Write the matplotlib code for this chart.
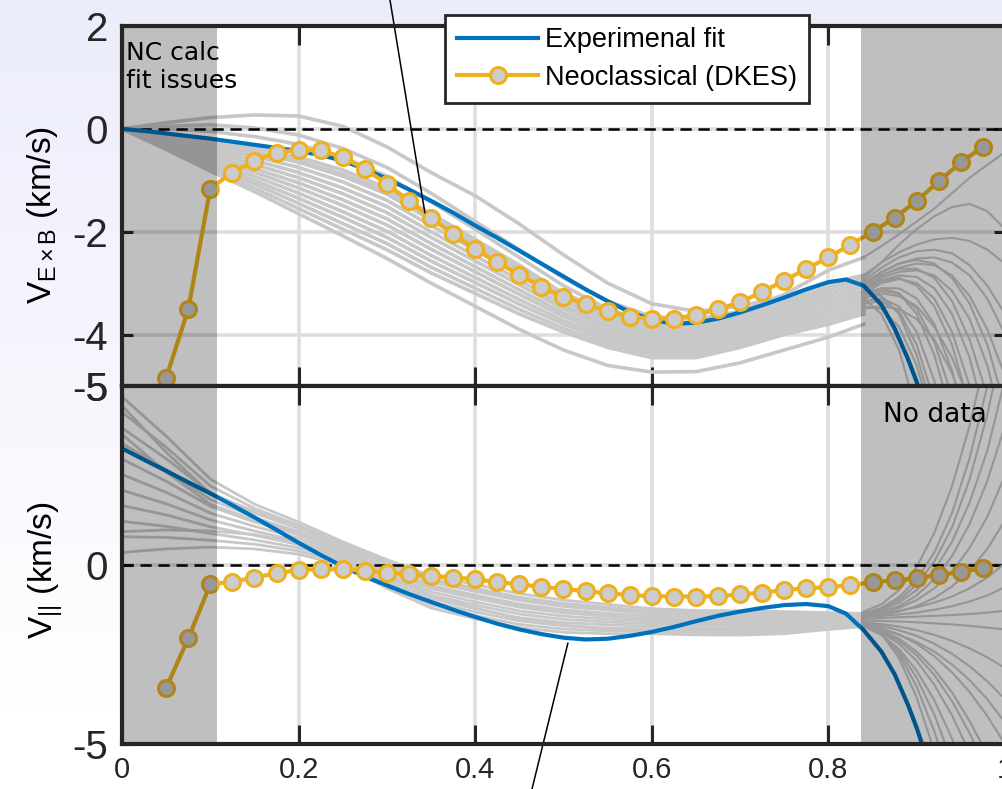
import numpy as np
import matplotlib
matplotlib.use("Agg")
import matplotlib.pyplot as plt

# ---------------- data ----------------
# neoclassical (DKES) points
rho_nc = [0.05, 0.075, 0.1, 0.125, 0.15, 0.175, 0.2, 0.225, 0.25, 0.275,
          0.3, 0.325, 0.35, 0.375, 0.4, 0.425, 0.45, 0.475, 0.5, 0.525,
          0.55, 0.575, 0.6, 0.625, 0.65, 0.675, 0.7, 0.725, 0.75, 0.775,
          0.8, 0.825, 0.85, 0.875, 0.9, 0.925, 0.95, 0.975]
vexb_nc = [-4.84, -3.51, -1.16, -0.85, -0.62, -0.46, -0.41, -0.42, -0.55, -0.78,
           -1.07, -1.40, -1.73, -2.05, -2.33, -2.59, -2.84, -3.07, -3.26, -3.41,
           -3.55, -3.65, -3.69, -3.69, -3.62, -3.51, -3.37, -3.17, -2.95, -2.72,
           -2.50, -2.25, -2.00, -1.73, -1.40, -1.02, -0.65, -0.35]
vpar_nc = [-3.43, -2.05, -0.54, -0.47, -0.35, -0.23, -0.14, -0.11, -0.12, -0.16,
           -0.21, -0.26, -0.30, -0.35, -0.40, -0.48, -0.54, -0.61, -0.67, -0.73,
           -0.79, -0.84, -0.87, -0.88, -0.88, -0.87, -0.82, -0.77, -0.70, -0.65,
           -0.62, -0.56, -0.48, -0.43, -0.36, -0.28, -0.19, -0.09]

# experimental fit
rho_fit = [0, 0.025, 0.05, 0.075, 0.1, 0.125, 0.15, 0.175, 0.2, 0.225,
           0.25, 0.275, 0.3, 0.325, 0.35, 0.375, 0.4, 0.425, 0.45, 0.475,
           0.5, 0.525, 0.55, 0.575, 0.6, 0.625, 0.65, 0.675, 0.7, 0.725,
           0.75, 0.775, 0.8, 0.82, 0.84, 0.86, 0.875, 0.89, 0.9, 0.91]
vexb_fit = [0, -0.04, -0.09, -0.14, -0.19, -0.25, -0.31, -0.37, -0.43, -0.51,
            -0.62, -0.78, -0.97, -1.18, -1.40, -1.63, -1.88, -2.12, -2.37, -2.62,
            -2.87, -3.12, -3.35, -3.56, -3.71, -3.79, -3.77, -3.69, -3.57, -3.43,
            -3.28, -3.12, -2.98, -2.93, -3.05, -3.42, -3.88, -4.47, -4.92, -5.50]
vpar_fit = [3.26, 2.94, 2.63, 2.31, 2.00, 1.67, 1.33, 0.98, 0.62, 0.28,
            -0.04, -0.32, -0.57, -0.81, -1.03, -1.25, -1.45, -1.64, -1.80, -1.93,
            -2.03, -2.08, -2.06, -1.98, -1.87, -1.73, -1.57, -1.42, -1.30, -1.20,
            -1.12, -1.09, -1.15, -1.36, -1.82, -2.42, -3.05, -3.90, -4.55, -5.30]

# grey ensemble of fits: main part and the part in the "no data" zone
rho_ens = [0, 0.05, 0.1, 0.15, 0.2, 0.25, 0.3, 0.35, 0.4, 0.45,
           0.5, 0.55, 0.6, 0.65, 0.7, 0.75, 0.8, 0.84]
vexb_ens = [
    [0, -0.12, -0.25, -0.38, -0.55, -0.80, -1.15, -1.65, -2.15, -2.65, -3.20, -3.60, -3.85, -3.85, -3.65, -3.40, -3.10, -2.95],
    [0, -0.15, -0.30, -0.46, -0.65, -0.92, -1.27, -1.77, -2.26, -2.75, -3.28, -3.67, -3.91, -3.91, -3.71, -3.46, -3.17, -3.02],
    [0, -0.17, -0.36, -0.53, -0.75, -1.03, -1.39, -1.88, -2.36, -2.84, -3.35, -3.73, -3.97, -3.97, -3.77, -3.52, -3.24, -3.08],
    [0, -0.20, -0.41, -0.61, -0.85, -1.15, -1.51, -2.00, -2.47, -2.94, -3.43, -3.80, -4.03, -4.03, -3.83, -3.58, -3.31, -3.15],
    [0, -0.22, -0.46, -0.69, -0.95, -1.26, -1.63, -2.11, -2.57, -3.03, -3.50, -3.86, -4.09, -4.09, -3.89, -3.64, -3.38, -3.21],
    [0, -0.25, -0.52, -0.77, -1.05, -1.38, -1.75, -2.23, -2.68, -3.13, -3.58, -3.93, -4.15, -4.15, -3.95, -3.70, -3.45, -3.28],
    [0, -0.28, -0.57, -0.84, -1.15, -1.49, -1.87, -2.34, -2.78, -3.22, -3.65, -3.99, -4.21, -4.21, -4.01, -3.76, -3.52, -3.34],
    [0, -0.30, -0.62, -0.92, -1.25, -1.61, -1.99, -2.46, -2.89, -3.32, -3.73, -4.06, -4.27, -4.27, -4.07, -3.82, -3.59, -3.41],
    [0, -0.33, -0.67, -1.00, -1.35, -1.72, -2.11, -2.57, -2.99, -3.41, -3.80, -4.12, -4.33, -4.33, -4.13, -3.88, -3.66, -3.47],
    [0, -0.35, -0.73, -1.07, -1.45, -1.84, -2.23, -2.69, -3.10, -3.51, -3.88, -4.19, -4.39, -4.39, -4.19, -3.94, -3.73, -3.54],
    [0, -0.38, -0.78, -1.15, -1.55, -1.95, -2.35, -2.80, -3.20, -3.60, -3.95, -4.25, -4.45, -4.45, -4.25, -4.00, -3.80, -3.60],
    [0, 0.12, 0.22, 0.27, 0.25, 0.05, -0.35, -0.85, -1.30, -1.85, -2.45, -3.00, -3.40, -3.55, -3.45, -3.25, -3.00, -2.85],
    [0, 0.05, 0.08, 0.02, -0.12, -0.38, -0.75, -1.25, -1.80, -2.35, -2.90, -3.35, -3.65, -3.70, -3.55, -3.30, -3.00, -2.85],
    [0, 0.00, -0.05, -0.15, -0.30, -0.55, -0.92, -1.42, -1.95, -2.50, -3.05, -3.50, -3.78, -3.80, -3.62, -3.36, -3.08, -2.92],
    [0, -0.40, -0.82, -1.22, -1.65, -2.08, -2.52, -3.00, -3.45, -3.90, -4.30, -4.60, -4.73, -4.72, -4.55, -4.30, -4.05, -3.80],
    [0, -0.15, -0.30, -0.45, -0.62, -0.88, -1.22, -1.70, -2.20, -2.70, -3.20, -3.55, -3.80, -3.75, -3.55, -3.22, -2.75, -2.50],
]
vpar_ens = [
    [4.70, 3.60, 2.40, 1.70, 1.20, 0.65, 0.15, -0.30, -0.55, -0.80, -0.98, -1.10, -1.22, -1.27, -1.28, -1.30, -1.33, -1.35],
    [4.27, 3.29, 2.21, 1.58, 1.11, 0.59, 0.07, -0.39, -0.65, -0.90, -1.07, -1.18, -1.29, -1.34, -1.35, -1.36, -1.38, -1.39],
    [3.83, 2.97, 2.02, 1.45, 1.02, 0.52, -0.01, -0.48, -0.74, -0.99, -1.16, -1.26, -1.36, -1.41, -1.42, -1.42, -1.42, -1.42],
    [3.40, 2.66, 1.83, 1.33, 0.93, 0.46, -0.09, -0.57, -0.84, -1.09, -1.25, -1.35, -1.43, -1.47, -1.48, -1.49, -1.47, -1.46],
    [2.96, 2.34, 1.64, 1.20, 0.84, 0.39, -0.17, -0.66, -0.93, -1.18, -1.34, -1.43, -1.50, -1.54, -1.55, -1.55, -1.52, -1.50],
    [2.53, 2.03, 1.45, 1.08, 0.75, 0.33, -0.25, -0.75, -1.03, -1.28, -1.43, -1.51, -1.57, -1.61, -1.62, -1.61, -1.57, -1.54],
    [2.09, 1.71, 1.26, 0.95, 0.66, 0.26, -0.33, -0.84, -1.12, -1.37, -1.52, -1.59, -1.64, -1.68, -1.69, -1.67, -1.61, -1.57],
    [1.66, 1.40, 1.07, 0.83, 0.57, 0.20, -0.41, -0.93, -1.22, -1.47, -1.61, -1.67, -1.71, -1.75, -1.76, -1.73, -1.66, -1.61],
    [1.22, 1.08, 0.88, 0.70, 0.48, 0.13, -0.49, -1.02, -1.31, -1.56, -1.70, -1.76, -1.78, -1.81, -1.82, -1.80, -1.71, -1.65],
    [0.79, 0.77, 0.69, 0.58, 0.39, 0.07, -0.57, -1.11, -1.41, -1.66, -1.79, -1.84, -1.85, -1.88, -1.89, -1.86, -1.75, -1.68],
    [0.35, 0.45, 0.50, 0.45, 0.30, 0.00, -0.65, -1.20, -1.50, -1.75, -1.88, -1.92, -1.92, -1.95, -1.96, -1.92, -1.80, -1.72],
    [0.93, 0.98, 0.95, 0.85, 0.62, 0.25, -0.30, -0.85, -1.20, -1.50, -1.68, -1.78, -1.83, -1.86, -1.88, -1.85, -1.75, -1.68],
    [4.45, 3.15, 2.00, 1.50, 1.10, 0.60, 0.08, -0.40, -0.70, -0.95, -1.12, -1.22, -1.30, -1.33, -1.33, -1.34, -1.36, -1.38],
    [3.65, 2.60, 1.70, 1.25, 0.88, 0.42, -0.12, -0.60, -0.90, -1.15, -1.32, -1.42, -1.50, -1.55, -1.57, -1.58, -1.55, -1.52],
]

rho_tail = [0.84, 0.86, 0.88, 0.9, 0.92, 0.94, 0.96, 0.98, 1.0]
vexb_tail = [
    [-2.50, -2.28, -2.05, -1.80, -1.55, -1.25, -0.95, -0.70, -0.45],
    [-2.90, -2.60, -2.25, -1.95, -1.70, -1.52, -1.46, -1.60, -1.95],
    [-2.95, -2.70, -2.50, -2.38, -2.35, -2.42, -2.65, -3.05, -3.60],
    [-2.85, -2.60, -2.40, -2.25, -2.15, -2.12, -2.18, -2.35, -2.62],
    [-3.00, -2.80, -2.62, -2.52, -2.50, -2.60, -2.85, -3.30, -4.00],
    [-3.05, -2.85, -2.70, -2.62, -2.65, -2.85, -3.25, -3.90, -4.80],
    [-3.00, -2.78, -2.62, -2.55, -2.62, -2.90, -3.40, -4.20, -5.40],
    [-3.10, -2.90, -2.78, -2.75, -2.85, -3.15, -3.70, -4.60, -6.00],
    [-3.05, -2.85, -2.72, -2.72, -2.90, -3.35, -4.10, -5.20, -6.50],
    [-3.15, -2.95, -2.85, -2.88, -3.10, -3.60, -4.45, -5.80, -7.00],
    [-3.20, -3.00, -2.92, -3.00, -3.30, -3.95, -5.00, -6.20, -7.50],
    [-3.10, -2.95, -2.90, -3.05, -3.45, -4.20, -5.40, -7.00, -8.00],
    [-3.25, -3.10, -3.10, -3.30, -3.80, -4.70, -6.00, -7.50, -9.00],
    [-3.30, -3.15, -3.20, -3.50, -4.15, -5.20, -6.50, -8.00, -9.00],
    [-3.20, -3.10, -3.20, -3.60, -4.40, -5.60, -7.00, -8.50, -10.0],
    [-3.35, -3.30, -3.45, -3.95, -4.90, -6.20, -8.00, -9.00, -10.0],
    [-3.40, -3.35, -3.55, -4.20, -5.30, -7.00, -8.00, -9.00, -10.0],
    [-3.45, -3.50, -3.85, -4.60, -5.80, -7.50, -9.00, -10.0, -11.0],
    [-3.30, -3.20, -3.25, -3.45, -3.85, -4.45, -5.30, -6.50, -8.00],
    [-3.50, -3.45, -3.50, -3.70, -4.10, -4.75, -5.70, -7.00, -8.00],
    [-3.20, -3.25, -3.60, -4.40, -5.60, -7.00, -8.50, -10.0, -11.0],
    [-3.30, -3.60, -4.30, -5.50, -7.00, -8.50, -10.0, -11.0, -12.0],
]
vpar_tail = [
    [-1.30, -1.10, -0.70, -0.05, 0.90, 2.20, 3.90, 6.00, 8.50],
    [-1.35, -1.20, -0.90, -0.40, 0.35, 1.45, 3.00, 5.00, 7.00],
    [-1.35, -1.22, -0.98, -0.55, 0.10, 1.05, 2.40, 4.20, 6.50],
    [-1.35, -1.25, -1.05, -0.70, -0.15, 0.65, 1.75, 3.20, 5.20],
    [-1.38, -1.30, -1.15, -0.85, -0.40, 0.25, 1.15, 2.35, 3.90],
    [-1.40, -1.33, -1.20, -0.98, -0.65, -0.18, 0.48, 1.35, 2.50],
    [-1.42, -1.38, -1.30, -1.15, -0.92, -0.60, -0.15, 0.45, 1.25],
    [-1.40, -1.35, -1.28, -1.18, -1.05, -0.88, -0.65, -0.35, 0.05],
    [-1.45, -1.42, -1.38, -1.33, -1.25, -1.15, -1.02, -0.85, -0.62],
    [-1.50, -1.48, -1.46, -1.44, -1.42, -1.40, -1.37, -1.33, -1.28],
    [-1.55, -1.56, -1.58, -1.60, -1.63, -1.66, -1.70, -1.75, -1.80],
    [-1.60, -1.65, -1.72, -1.82, -1.95, -2.12, -2.33, -2.58, -2.88],
    [-1.72, -1.80, -1.95, -2.15, -2.42, -2.78, -3.22, -3.75, -4.40],
    [-1.62, -1.70, -1.82, -1.98, -2.20, -2.48, -2.83, -3.25, -3.75],
    [-1.65, -1.76, -1.94, -2.20, -2.55, -3.00, -3.55, -4.22, -5.00],
    [-1.70, -1.85, -2.12, -2.52, -3.08, -3.80, -4.70, -5.80, -7.00],
    [-1.68, -1.82, -2.06, -2.42, -2.92, -3.56, -4.36, -5.30, -6.40],
    [-1.70, -1.88, -2.20, -2.68, -3.35, -4.20, -5.25, -6.50, -8.00],
    [-1.72, -1.95, -2.35, -2.95, -3.78, -4.85, -6.20, -8.00, -9.00],
    [-1.65, -1.92, -2.40, -3.15, -4.18, -5.50, -7.00, -9.00, -10.0],
    [-1.60, -1.90, -2.48, -3.40, -4.65, -6.20, -8.00, -10.0, -11.0],
    [-1.55, -1.92, -2.60, -3.70, -5.20, -7.00, -9.00, -11.0, -12.0],
]

# shaded zones and axis ticks
nc_issue_zone = (0, 0.1076)
no_data_zone = (0.837, 1.0)
x_ticks = [0, 0.2, 0.4, 0.6, 0.8, 1]
x_tick_labels = ['0', '0.2', '0.4', '0.6', '0.8', '1']
vexb_ticks = [-5, -4, -2, 0, 2]
vexb_tick_labels = ['-5', '-4', '-2', '0', '2']
vpar_ticks = [-5, 0, 5]
vpar_tick_labels = ['-5', '0', '5']

# ---------------- styling ----------------
plt.rcParams['font.family'] = ['Liberation Sans', 'DejaVu Sans']
plt.rcParams['mathtext.fontset'] = 'custom'
plt.rcParams['mathtext.rm'] = 'Liberation Sans'
plt.rcParams['mathtext.it'] = 'Liberation Sans:italic'

c_blue = '#0072BD'
c_yel = '#EDB120'
c_grey = '#c8c8c8'
c_axis = '#262626'

W, H = 1003, 789
fig = plt.figure(figsize=(W / 100, H / 100), dpi=100)

# soft lavender background of the original figure
bg = fig.add_axes([0, 0, 1, 1], zorder=-5)
fade = np.clip(1 - np.linspace(0, 1, 200) / 0.9, 0, 1)[:, None, None]
lav = np.array([0.925, 0.93, 0.985])[None, None, :]
bg.imshow(1 - (1 - lav) * fade, extent=[0, 1, 0, 1], aspect='auto')
bg.set_axis_off()

ax_top = fig.add_axes([122 / W, 1 - 386 / H, 883 / W, 360 / H])
ax_bot = fig.add_axes([122 / W, 1 - 744 / H, 883 / W, 358 / H])


def style(ax, ylim, yticks, ylabels):
    ax.set_facecolor('white')
    ax.set_xlim(0, 1)
    ax.set_ylim(*ylim)
    ax.set_xticks(x_ticks)
    ax.set_yticks(yticks)
    ax.set_yticklabels(ylabels)
    ax.set_axisbelow(True)
    ax.grid(True, color='#dedede', lw=2.6)
    ax.tick_params(direction='in', top=True, right=True, width=2.2,
                   color=c_axis, labelcolor='#262626')
    ax.tick_params(axis='x', length=13.5, pad=9, labelsize=21)
    ax.tick_params(axis='y', length=8, pad=10, labelsize=29)
    for sp in ax.spines.values():
        sp.set_linewidth(3)
        sp.set_color(c_axis)
        sp.set_zorder(8)
    ax.axhline(0, color='k', lw=1.8, ls=(0, (4.5, 2.7)), zorder=2.5)
    for zone in (nc_issue_zone, no_data_zone):
        ax.axvspan(*zone, color='k', alpha=0.25, lw=0, zorder=4)


style(ax_top, (-5, 2), vexb_ticks, vexb_tick_labels)
style(ax_bot, (-5, 5), vpar_ticks, vpar_tick_labels)
ax_top.tick_params(axis='x', labelbottom=False)
ax_bot.set_xticklabels(x_tick_labels)

# grey ensemble
for row in vexb_ens:
    ax_top.plot(rho_ens, row, color=c_grey, lw=2.6, zorder=2)
for row in vexb_tail:
    ax_top.plot(rho_tail, row, color=c_grey, lw=1.5, zorder=2)
for row in vpar_ens:
    ax_bot.plot(rho_ens, row, color=c_grey, lw=2.0, zorder=2)
for row in vpar_tail:
    ax_bot.plot(rho_tail, row, color=c_grey, lw=1.5, zorder=2)

# fit and neoclassical values
mk = dict(marker='o', ms=11.5, mfc='#cccccc', mec=c_yel, mew=2.2)
h_fit, = ax_top.plot(rho_fit, vexb_fit, color=c_blue, lw=3, zorder=3)
h_nc, = ax_top.plot(rho_nc, vexb_nc, color=c_yel, lw=3, zorder=3.5,
                    clip_on=False, **mk)
ax_bot.plot(rho_fit, vpar_fit, color=c_blue, lw=3, zorder=3)
ax_bot.plot(rho_nc, vpar_nc, color=c_yel, lw=3, zorder=3.5, **mk)

# labels
ax_top.set_ylabel(r'V$_{\rm E\times B}$ (km/s)', fontsize=24)
ax_bot.set_ylabel(r'V$_{||}$ (km/s)', fontsize=24)
ax_top.yaxis.set_label_coords(-0.07, 0.475)
ax_bot.yaxis.set_label_coords(-0.064, 0.486)

ax_top.text(0.005, 1.70, 'NC calc\nfit issues', family='DejaVu Sans',
            fontsize=18, va='top', ha='left', zorder=6, linespacing=1.2)
ax_bot.text(0.862, 3.99, 'No data', family='DejaVu Sans', fontsize=19,
            va='baseline', ha='left', zorder=6)

leg = ax_top.legend([h_fit, h_nc], ['Experimenal fit', 'Neoclassical (DKES)'],
                    loc='upper left', bbox_to_anchor=(445 / W, 1 - 15 / H),
                    bbox_transform=fig.transFigure, borderaxespad=0,
                    fancybox=False, framealpha=1, edgecolor=c_axis,
                    prop={'size': 19.5}, handlelength=3.0,
                    handletextpad=0.25, borderpad=0.45, labelspacing=0.42)
leg.get_frame().set_linewidth(2)
leg.set_zorder(10)

# leader lines towards text outside this crop
arrow = dict(arrowstyle='-', color='k', lw=1.1, shrinkA=0, shrinkB=0)
ax_top.annotate('', xy=(0.343, -1.63), xytext=(390 / W, 1.0),
                textcoords='figure fraction', arrowprops=arrow,
                annotation_clip=False, zorder=6)
ax_bot.annotate('', xy=(0.505, -2.18), xytext=(532 / W, 0.0),
                textcoords='figure fraction', arrowprops=arrow,
                annotation_clip=False, zorder=6)

fig.savefig('out.png', dpi=100)
